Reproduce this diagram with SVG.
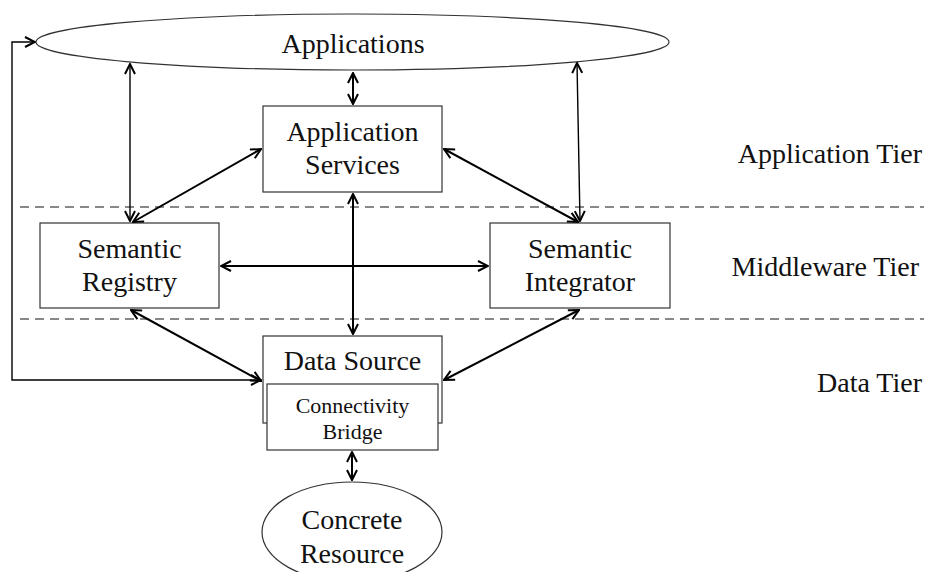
<svg xmlns="http://www.w3.org/2000/svg" width="928" height="572" viewBox="0 0 928 572">
<style>
.box{fill:#fff;stroke:#333;stroke-width:1.2}
.lbl{font-family:"Liberation Serif","Times New Roman",serif;font-size:28px;fill:#111;text-anchor:middle}
.sm{font-size:22px}
.tier{font-family:"Liberation Serif","Times New Roman",serif;font-size:28px;fill:#111;text-anchor:end}
.dash{stroke:#888;stroke-width:2;stroke-dasharray:9 6;fill:none}
.c{stroke:#000;stroke-width:2;fill:none;marker-start:url(#ah);marker-end:url(#ah)}
.thin{stroke-width:1.4}
</style>
<defs>
<marker id="ah" viewBox="0 0 12 12" refX="11" refY="6" markerWidth="12" markerHeight="12" markerUnits="userSpaceOnUse" orient="auto-start-reverse">
<path d="M1,1 L11,6 L1,11" fill="none" stroke="#000" stroke-width="2"/>
</marker>
</defs>
<g id="tiers">
<line class="dash" x1="20" y1="207" x2="924" y2="207"/>
<line class="dash" x1="20" y1="319" x2="924" y2="319"/>
<text class="tier" x="922" y="163">Application Tier</text>
<text class="tier" x="919" y="276">Middleware Tier</text>
<text class="tier" x="922" y="392">Data Tier</text>
</g>
<g id="applications">
<ellipse class="box" cx="352.5" cy="42" rx="316.5" ry="28"/>
<text class="lbl" x="353" y="53">Applications</text>
</g>
<g id="app-services">
<rect class="box" x="263" y="106" width="179" height="86"/>
<text class="lbl" x="352.5" y="141">Application</text>
<text class="lbl" x="352.5" y="174">Services</text>
</g>
<g id="semantic-registry">
<rect class="box" x="40" y="223" width="179" height="85"/>
<text class="lbl" x="129.5" y="258">Semantic</text>
<text class="lbl" x="129.5" y="291">Registry</text>
</g>
<g id="semantic-integrator">
<rect class="box" x="490" y="223" width="180" height="85"/>
<text class="lbl" x="580" y="258">Semantic</text>
<text class="lbl" x="580" y="291">Integrator</text>
</g>
<g id="data-source">
<rect class="box" x="263" y="336" width="179" height="87"/>
<text class="lbl" x="352.5" y="370">Data Source</text>
</g>
<g id="connectivity-bridge">
<rect class="box" x="267" y="384" width="171" height="66"/>
<text class="lbl sm" x="352.5" y="413">Connectivity</text>
<text class="lbl sm" x="352.5" y="439">Bridge</text>
</g>
<g id="concrete-resource">
<ellipse class="box" cx="352" cy="532" rx="90" ry="50"/>
<text class="lbl" x="352" y="529">Concrete</text>
<text class="lbl" x="352" y="563">Resource</text>
</g>
<g id="connectors">
<line class="c" x1="353" y1="73" x2="353" y2="104"/>
<line class="c thin" x1="130" y1="64" x2="130" y2="221"/>
<line class="c thin" x1="577" y1="63" x2="580" y2="221"/>
<line class="c" x1="261" y1="149" x2="133" y2="222"/>
<line class="c" x1="444" y1="149" x2="578" y2="222"/>
<line class="c" x1="353" y1="194" x2="353" y2="334"/>
<line class="c" x1="221" y1="266" x2="488" y2="266"/>
<line class="c" x1="131" y1="310" x2="261" y2="381"/>
<line class="c" x1="579" y1="310" x2="444" y2="380"/>
<polyline class="c thin" points="261,380 12,380 12,42 35,42"/>
<line class="c" x1="352" y1="452" x2="352" y2="480"/>
</g>
</svg>
